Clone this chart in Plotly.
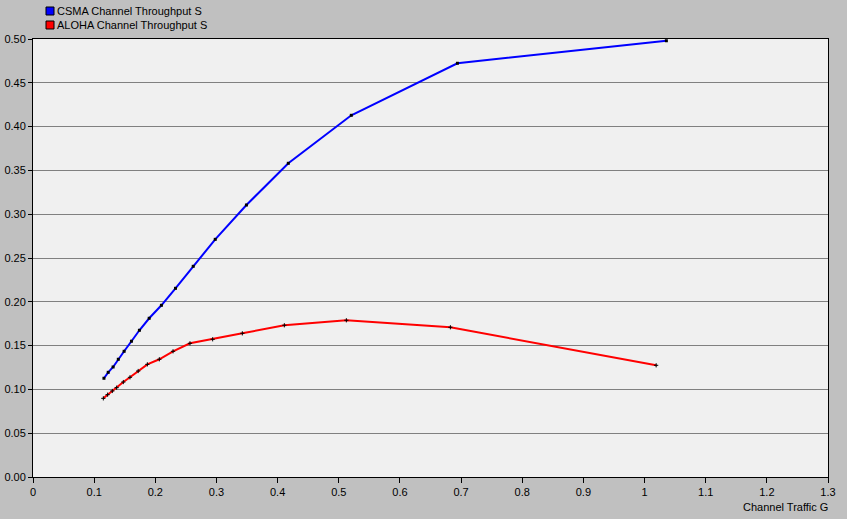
# =========================
# Dependencies
# =========================

import plotly.graph_objects as go

# =========================
# Data
# =========================

csma_g = [0.116, 0.123, 0.131, 0.1395, 0.149, 0.161, 0.174, 0.190, 0.210, 0.233,
          0.262, 0.298, 0.349, 0.4175, 0.5205, 0.694, 1.0357]
csma_s = [0.1127, 0.1195, 0.1256, 0.1344, 0.1435, 0.155, 0.1675, 0.1812, 0.196, 0.2154,
          0.2405, 0.2713, 0.3105, 0.3581, 0.4129, 0.4723, 0.498]

aloha_g = [0.115, 0.122, 0.1297, 0.1368, 0.1477, 0.1586, 0.172, 0.187, 0.2066, 0.229,
           0.2567, 0.2938, 0.3423, 0.411, 0.5124, 0.6825, 1.019]
aloha_s = [0.0898, 0.094, 0.0982, 0.102, 0.1084, 0.1138, 0.121, 0.1286, 0.1344, 0.1435,
           0.1526, 0.1572, 0.164, 0.1732, 0.1789, 0.1709, 0.1275]

x_ticks = [0, 0.1, 0.2, 0.3, 0.4, 0.5, 0.6, 0.7, 0.8, 0.9, 1, 1.1, 1.2, 1.3]
y_ticks = [0, 0.05, 0.10, 0.15, 0.20, 0.25, 0.30, 0.35, 0.40, 0.45, 0.50]

names = ['CSMA Channel Throughput S', 'ALOHA Channel Throughput S']
colors = ['#0000ff', '#ff0000']

# =========================
# Figure
# =========================

font = dict(family='Liberation Sans, Arial, sans-serif', size=11, color='black')

fig = go.Figure()

fig.add_trace(go.Scatter(
    x=csma_g, y=csma_s, mode='lines+markers',
    line=dict(color=colors[0], width=2),
    marker=dict(symbol='square', size=3, color='black'),
    showlegend=False, name=names[0]
))
fig.add_trace(go.Scatter(
    x=aloha_g, y=aloha_s, mode='lines+markers',
    line=dict(color=colors[1], width=2),
    marker=dict(symbol='cross-thin', size=3, line=dict(color='black', width=1)),
    showlegend=False, name=names[1]
))

# legend drawn by hand (swatch + label), placed in pixels above the plot area
for i, (n, c) in enumerate(zip(names, colors)):
    top = 32 - 14 * i
    fig.add_shape(
        type='rect', xref='paper', yref='paper',
        xsizemode='pixel', ysizemode='pixel', xanchor=0, yanchor=1,
        x0=13, x1=21, y0=top - 8, y1=top,
        fillcolor=c, line=dict(color='black', width=1)
    )
    fig.add_annotation(
        text=n, xref='paper', yref='paper', x=0, y=1,
        xanchor='left', yanchor='middle', xshift=22, yshift=top - 4,
        showarrow=False, font=font
    )

fig.add_annotation(
    text='Channel Traffic G', xref='paper', yref='paper',
    x=1, y=0, xanchor='right', yanchor='top', xshift=2, yshift=-22,
    showarrow=False, font=font
)

fig.update_layout(
    width=847, height=519,
    margin=dict(l=33, r=19, t=39, b=42),
    paper_bgcolor='#c0c0c0',
    plot_bgcolor='#f0f0f0',
    font=font,
    showlegend=False,
    xaxis=dict(
        range=[0, 1.3], tickvals=x_ticks, ticktext=[f'{t:g}' for t in x_ticks],
        showgrid=False, zeroline=False, automargin=False,
        showline=True, linecolor='black', linewidth=1, mirror=True,
        ticks='outside', ticklen=5, tickcolor='black'
    ),
    yaxis=dict(
        range=[0, 0.5], tickvals=y_ticks, tickformat='.2f',
        showgrid=True, gridcolor='#808080', gridwidth=1, zeroline=False,
        automargin=False,
        showline=True, linecolor='black', linewidth=1, mirror=True,
        ticks='outside', ticklen=4, tickcolor='black'
    )
)

fig.write_html('out.html', config={'displayModeBar': False},
               post_script="document.body.style.margin='0';")
